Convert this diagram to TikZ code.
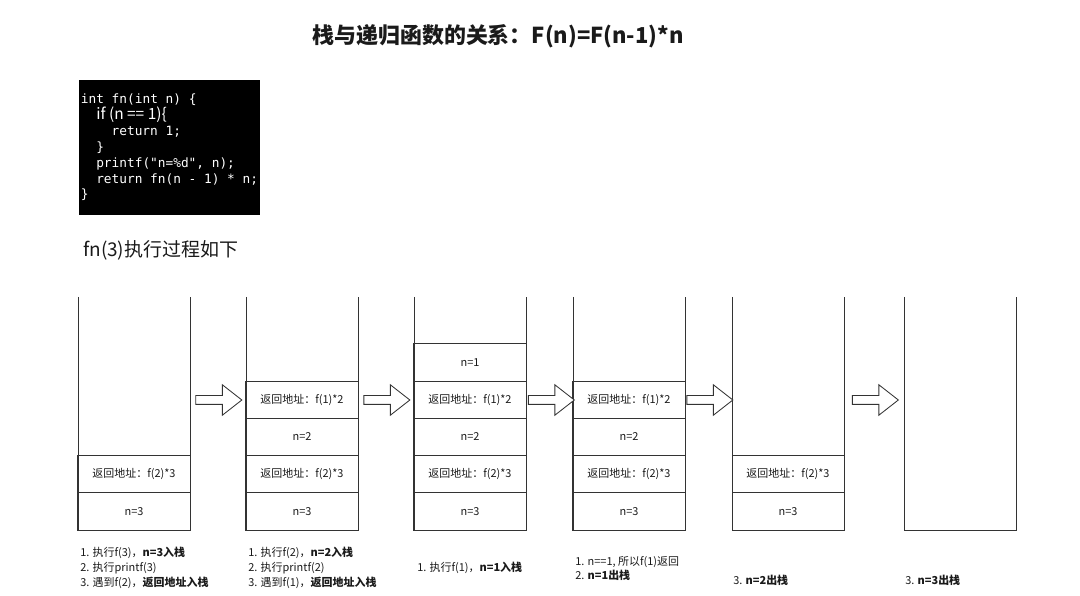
\documentclass[tikz,border=0pt]{standalone}
\usepackage{fontspec}
\setmainfont{Noto Sans CJK SC}
\newfontfamily\codefont{DejaVu Sans Mono}
\usetikzlibrary{shapes.arrows,positioning}
\definecolor{linegray}{HTML}{333333}
\definecolor{inkgray}{HTML}{1A1A1A}

\begin{document}
\begin{tikzpicture}[x=0.025cm, y=-0.025cm, font=\fontsize{7.8}{10.6}\selectfont, text=inkgray,
  cell/.style={draw=linegray, line width=0.7pt, minimum width=2.8cm, minimum height=0.93cm, inner sep=0pt, outer sep=0pt},
  wall/.style={draw=linegray, line width=0.7pt},
  push/.style={single arrow, draw=linegray, line width=0.6pt, fill=white, minimum height=1.15cm,
    single arrow head extend=0.27cm, single arrow tip angle=76, inner xsep=0pt, inner ysep=0.1cm},
  note/.style={anchor=west, align=left, inner sep=0pt, font=\fontsize{7.8}{10.6}\selectfont}]
  \useasboundingbox (0,0) rectangle (1080,596);

  % title and code
  \node[font=\fontsize{15.6}{18}\selectfont\bfseries] (title) at (498,36) {栈与递归函数的关系：F(n)=F(n-1)*n};
  \node[fill=black, text=white, minimum width=4.525cm, minimum height=3.375cm, inner sep=0pt,
        align=left, font=\fontsize{9.1}{11.3}\selectfont] (code) at (169.5,147.5)
    {\codefont int fn(int n) \{\\
     \codefont\hspace*{1.2em}{\rmfamily\fontsize{11}{11.3}\selectfont if (n == 1)\{}\\
     \codefont\hspace*{2.4em}return 1;\\
     \codefont\hspace*{1.2em}\}\\
     \codefont\hspace*{1.2em}printf("n=\%d", n);\\
     \codefont\hspace*{1.2em}return fn(n - 1) * n;\\
     \codefont\}};
  \node[anchor=west, inner sep=0pt, font=\fontsize{13.5}{16}\selectfont] (subtitle) at (83,250) {fn(3)执行过程如下};

  % stack outlines
  \foreach \x in {78,246,414,573,732,904}
    \draw[wall] (\x,297) |- (\x+112,530) -- (\x+112,297);

  % stack 1
  \node[cell] (s1n3) at (134,511.4) {n=3};
  \node[cell, above=0pt of s1n3] (s1ret3) {返回地址：f(2)*3};
  % stack 2
  \node[cell] (s2n3) at (302,511.4) {n=3};
  \node[cell, above=0pt of s2n3] (s2ret3) {返回地址：f(2)*3};
  \node[cell, above=0pt of s2ret3] (s2n2) {n=2};
  \node[cell, above=0pt of s2n2] (s2ret2) {返回地址：f(1)*2};
  % stack 3
  \node[cell] (s3n3) at (470,511.4) {n=3};
  \node[cell, above=0pt of s3n3] (s3ret3) {返回地址：f(2)*3};
  \node[cell, above=0pt of s3ret3] (s3n2) {n=2};
  \node[cell, above=0pt of s3n2] (s3ret2) {返回地址：f(1)*2};
  \node[cell, above=0pt of s3ret2] (s3n1) {n=1};
  % stack 4
  \node[cell] (s4n3) at (629,511.4) {n=3};
  \node[cell, above=0pt of s4n3] (s4ret3) {返回地址：f(2)*3};
  \node[cell, above=0pt of s4ret3] (s4n2) {n=2};
  \node[cell, above=0pt of s4n2] (s4ret2) {返回地址：f(1)*2};
  % stack 5
  \node[cell] (s5n3) at (788,511.4) {n=3};
  \node[cell, above=0pt of s5n3] (s5ret3) {返回地址：f(2)*3};

  % step arrows
  \node[push] (arr1) at (216,400) {};
  \node[push] (arr2) at (384,400) {};
  \node[push] (arr3) at (548.5,400) {};
  \node[push] (arr4) at (707,400) {};
  \node[push] (arr5) at (872.5,400) {};

  % notes under the stacks
  \node[note] (note1) at (80,568) {1. 执行f(3)，\textbf{n=3入栈}\\2. 执行printf(3)\\3. 遇到f(2)，\textbf{返回地址入栈}};
  \node[note] (note2) at (248,568) {1. 执行f(2)，\textbf{n=2入栈}\\2. 执行printf(2)\\3. 遇到f(1)，\textbf{返回地址入栈}};
  \node[note] (note3) at (417,568) {1. 执行f(1)，\textbf{n=1入栈}};
  \node[note] (note4) at (575,568.5) {1. n==1, 所以f(1)返回\\2. \textbf{n=1出栈}};
  \node[note] (note5) at (733,580) {3. \textbf{n=2出栈}};
  \node[note] (note6) at (905,580) {3. \textbf{n=3出栈}};
\end{tikzpicture}
\end{document}
